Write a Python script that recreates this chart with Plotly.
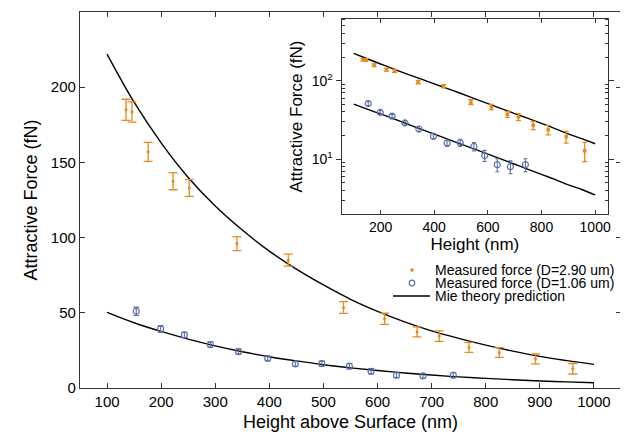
import plotly.graph_objects as go

# ---------------- data ----------------
h_large = [135, 146, 176, 222, 252, 340, 435, 537, 613, 673, 714, 769, 825, 892, 961]
f_large = [185, 183.5, 157, 137.5, 133, 96, 85, 53.5, 46, 37.3, 34.5, 27, 23.6, 19.3, 12.8]
err_large = [7, 6.7, 6.3, 5.7, 5.6, 4.7, 4, 3.9, 3.7, 3.3, 3.5, 3.3, 3.3, 3.3, 3.5]

h_small = [154, 199, 243, 291, 343, 397, 448, 497, 548, 588, 635, 684, 740]
f_small = [51, 39.3, 35.3, 28.9, 24.2, 19.6, 16, 16.2, 14.5, 11.1, 8.5, 8.0, 8.5]
err_small = [2.8, 2.3, 1.8, 1.8, 1.8, 1.5, 1.5, 1.7, 1.8, 1.8, 1.6, 1.5, 1.6]

h_theory = [100, 150, 200, 250, 300, 350, 400, 450, 500, 550, 600, 650, 700, 750, 800, 850, 900, 950, 1000]
f_theory_large = [222, 190, 163, 140, 121, 105, 91, 79, 68.5, 59, 51, 44, 38, 33, 28.5, 24.5, 21, 18.2, 15.7]
f_theory_small = [50.3, 43.4, 37.6, 32.5, 28, 24.1, 20.8, 18, 15.5, 13.4, 11.6, 10, 8.6, 7.4, 6.4, 5.5, 4.7, 4.1, 3.5]

main_xticks = [100, 200, 300, 400, 500, 600, 700, 800, 900, 1000]
main_yticks = [0, 50, 100, 150, 200, 250]
inset_xticks = [200, 400, 600, 800, 1000]
inset_yticks = [10, 100]
inset_yticktext = ["10<sup>1</sup>", "10<sup>2</sup>"]
inset_minor = [3, 4, 5, 6, 7, 8, 9, 20, 30, 40, 50, 60, 70, 80, 90, 200, 300, 400, 500, 600]

legend_labels = ["Measured force (D=2.90 um)", "Measured force (D=1.06 um)", "Mie theory prediction"]

ORANGE = "#E8891C"
BLUE = "#5B70A8"
FONT = "Liberation Sans, Arial, sans-serif"
AXC = "#333333"

fig = go.Figure()

for xa, ya, inset in (("x", "y", False), ("x2", "y2", True)):
    fig.add_trace(go.Scatter(
        x=h_theory, y=f_theory_large, mode="lines", line=dict(color="black", width=1.4, shape="spline"),
        xaxis=xa, yaxis=ya, showlegend=False, hoverinfo="skip"))
    fig.add_trace(go.Scatter(
        x=h_theory, y=f_theory_small, mode="lines", line=dict(color="black", width=1.4, shape="spline"),
        xaxis=xa, yaxis=ya, showlegend=False, hoverinfo="skip"))
    fig.add_trace(go.Scatter(
        x=h_large, y=f_large, mode="markers",
        marker=dict(color=ORANGE, size=3 if not inset else 3.5, symbol="circle" if not inset else "square"),
        error_y=dict(type="data", array=err_large, color=ORANGE, thickness=1.3, width=4.5 if not inset else 2.5),
        xaxis=xa, yaxis=ya, showlegend=False))
    fig.add_trace(go.Scatter(
        x=h_small, y=f_small, mode="markers",
        marker=dict(color=BLUE, size=6, symbol="circle-open", line=dict(width=1.2, color=BLUE)),
        error_y=dict(type="data", array=err_small, color=BLUE, thickness=1.1, width=3 if not inset else 2),
        xaxis=xa, yaxis=ya, showlegend=False))

axis_common = dict(showline=True, linecolor=AXC, linewidth=1.3, mirror="ticks", automargin=False,
                   showgrid=False, zeroline=False, tickcolor=AXC, tickwidth=1.2)

# The page body has an 8px default margin, so the figure is 8px smaller than the window
fig.update_layout(
    width=620, height=435,
    margin=dict(l=72, r=7, t=4, b=55),
    paper_bgcolor="white", plot_bgcolor="white",
    font=dict(family=FONT, color="black"),
    xaxis=dict(range=[50, 1050], tickvals=main_xticks, ticks="inside", ticklen=5,
               tickfont=dict(size=15), title=dict(text="Height above Surface (nm)", font=dict(size=18), standoff=6),
               **axis_common),
    yaxis=dict(range=[0, 250], tickvals=main_yticks, ticks="inside", ticklen=5,
               tickfont=dict(size=15), title=dict(text="Attractive Force (fN)", font=dict(size=18), standoff=8),
               **axis_common),
    xaxis2=dict(domain=[0.4837, 0.976], anchor="y2", range=[55, 1048], tickvals=inset_xticks,
                ticks="inside", ticklen=4, tickfont=dict(size=14),
                title=dict(text="Height (nm)", font=dict(size=17), standoff=2), **axis_common),
    yaxis2=dict(domain=[0.4627, 0.9813], anchor="x2", type="log", range=[0.3, 2.785],
                tickvals=inset_yticks, ticktext=inset_yticktext, ticks="outside", ticklen=5,
                minor=dict(tickvals=inset_minor, ticks="inside", ticklen=3, tickcolor=AXC),
                tickfont=dict(size=14),
                title=dict(text="Attractive Force (fN)", font=dict(size=17), standoff=4), **axis_common),
)

# ---------------- legend (drawn manually to match compact spacing) ----------------
def px2paper(px, py):
    return (px - 80) / 541.0, (388 - py) / 376.0

rows_y = [270, 283, 296]
for label, py in zip(legend_labels, rows_y):
    xp, yp = px2paper(433, py)
    fig.add_annotation(x=xp, y=yp, xref="paper", yref="paper", text=label, showarrow=False,
                       xanchor="left", yanchor="middle", font=dict(size=14, family=FONT, color="black"))

cx, cy = px2paper(412, rows_y[0])
fig.add_shape(type="circle", xref="paper", yref="paper", xsizemode="pixel", ysizemode="pixel",
              xanchor=cx, yanchor=cy, x0=-1.5, x1=1.5, y0=-1.5, y1=1.5,
              fillcolor=ORANGE, line=dict(color=ORANGE, width=0.5))
cx, cy = px2paper(412, rows_y[1])
fig.add_shape(type="circle", xref="paper", yref="paper", xsizemode="pixel", ysizemode="pixel",
              xanchor=cx, yanchor=cy, x0=-2.8, x1=2.8, y0=-2.8, y1=2.8,
              fillcolor="rgba(0,0,0,0)", line=dict(color=BLUE, width=1.2))
x0, ly = px2paper(393, rows_y[2])
x1, _ = px2paper(430, rows_y[2])
fig.add_shape(type="line", xref="paper", yref="paper", x0=x0, x1=x1, y0=ly, y1=ly,
              line=dict(color="black", width=1.4))

fig.write_html("out.html")
